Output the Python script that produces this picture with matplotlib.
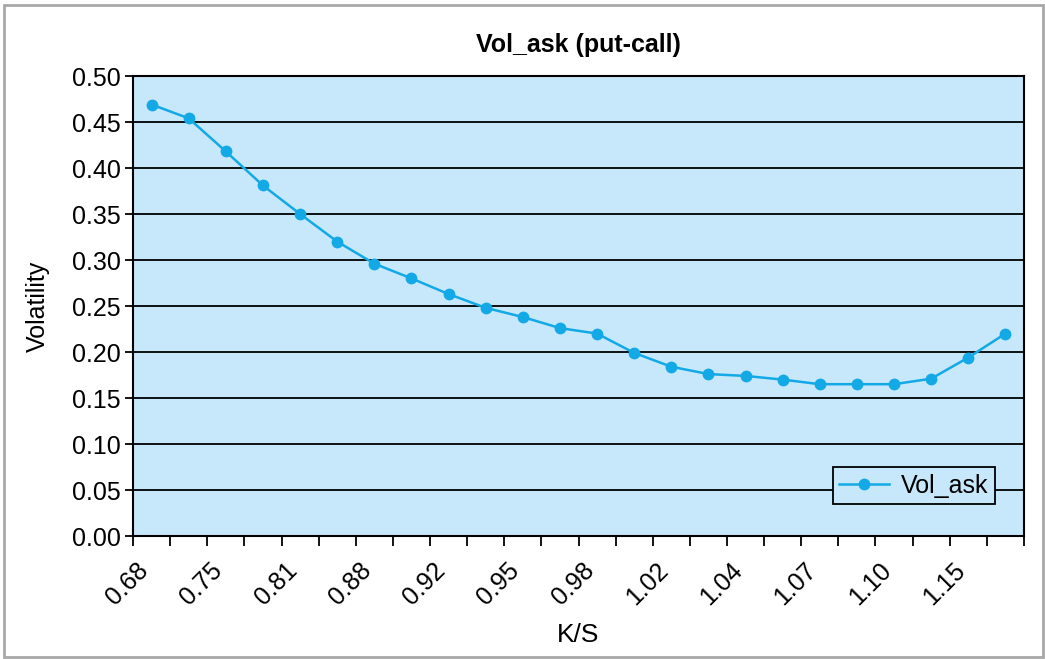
import numpy as np
import matplotlib
matplotlib.use("Agg")
import matplotlib.pyplot as plt
from matplotlib.patches import Rectangle
from matplotlib.transforms import ScaledTranslation

plt.rcParams['font.family'] = ['Liberation Sans', 'DejaVu Sans']

# strike / spot categories (only every other one gets a label on the axis)
k_over_s = [0.68, 0.72, 0.75, 0.78, 0.81, 0.85, 0.88, 0.90, 0.92, 0.93, 0.95, 0.97,
            0.98, 1.00, 1.02, 1.03, 1.04, 1.06, 1.07, 1.08, 1.10, 1.12, 1.15, 1.18]
vol_ask = [0.469, 0.454, 0.418, 0.381, 0.350, 0.320, 0.296, 0.280, 0.263, 0.248, 0.238, 0.226,
           0.220, 0.199, 0.184, 0.176, 0.174, 0.170, 0.165, 0.165, 0.165, 0.171, 0.194, 0.220]
y_ticks = [0.00, 0.05, 0.10, 0.15, 0.20, 0.25, 0.30, 0.35, 0.40, 0.45, 0.50]

bg = '#c7e8fa'
line_col = '#12a9e6'

fig = plt.figure(figsize=(10.45, 6.59), dpi=100)
ax = fig.add_axes([133 / 1045, 1 - 536 / 659, 891 / 1045, 460 / 659])
ax.set_facecolor(bg)

x = np.arange(len(k_over_s))
ax.plot(x, vol_ask, color=line_col, lw=1.8, marker='o', ms=8.5,
        markeredgewidth=0, label='Vol_ask', zorder=3)

ax.set_xlim(-0.5, len(k_over_s) - 0.5)
ax.set_ylim(0, 0.5)

# y axis: 0.05 steps with black horizontal gridlines
ax.set_yticks(y_ticks)
ax.set_yticklabels(['%.2f' % v for v in y_ticks])
ax.yaxis.grid(True, color='black', lw=1.3)
ax.tick_params(axis='y', length=6, width=1.3, pad=3, labelsize=18)

# x axis: ticks on category boundaries, labels centred on every other category
ax.set_xticks(np.arange(-0.5, len(k_over_s), 1.0))
ax.set_xticklabels([])
ax.tick_params(axis='x', which='major', length=7, width=1.3)
ax.set_xticks(x[::2], minor=True)
ax.set_xticklabels(['%.2f' % v for v in k_over_s[::2]], minor=True,
                   rotation=45, ha='right', va='center', rotation_mode='anchor')
ax.tick_params(axis='x', which='minor', length=0, pad=22, labelsize=18)
shift = ScaledTranslation(-7 / 100, 0, fig.dpi_scale_trans)
for lab in ax.get_xticklabels(minor=True):
    lab.set_transform(lab.get_transform() + shift)

for s in ax.spines.values():
    s.set_linewidth(1.5)
    s.set_color('black')

ax.set_title('Vol_ask (put-call)', fontsize=18, fontweight='bold', pad=17)
ax.set_xlabel('K/S', fontsize=19, labelpad=10)
ax.set_ylabel('Volatility', fontsize=18, labelpad=16)

leg = ax.legend(loc='lower right', bbox_to_anchor=(0.9675, 0.0696), borderaxespad=0,
                fancybox=False, framealpha=1, facecolor=bg, edgecolor='black',
                fontsize=18, handlelength=2.0, borderpad=0.25, handletextpad=0.5)
leg.get_frame().set_linewidth(1.3)

# thin grey frame around the whole chart
fig.patches.append(Rectangle((4 / 1045, 2 / 659), 1039 / 1045, 652 / 659, fill=False,
                             edgecolor='#a8a8a8', lw=2, transform=fig.transFigure))

fig.savefig('out.png', dpi=100)
